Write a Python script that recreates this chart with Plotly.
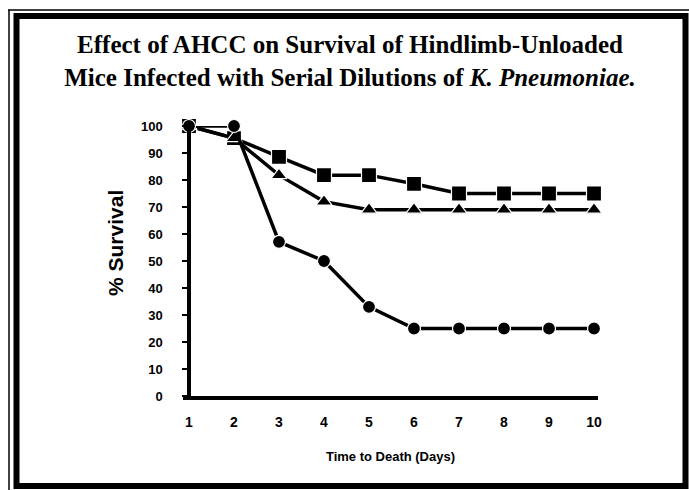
import plotly.graph_objects as go

# Survival (%) by day for the three infection groups
days = list(range(1, 11))
survival_square = [100, 95.5, 88.6, 81.8, 81.8, 78.6, 75, 75, 75, 75]
survival_triangle = [100, 95.5, 81.8, 72, 69, 69, 69, 69, 69, 69]
survival_circle = [100, 100, 57.1, 50, 33, 25, 25, 25, 25, 25]
y_ticks = list(range(0, 101, 10))

title_line1 = "Effect of AHCC on Survival of Hindlimb-Unloaded"
title_line2 = "Mice Infected with Serial Dilutions of <i>K. Pneumoniae.</i>"
x_title = "Time to Death (Days)"
y_title = "% Survival"

W, H = 689, 490
L, R, T, B = 183, 91, 126, 94
PW, PH = W - L - R, H - T - B


def px(x):
    return (x - L) / PW


def py(y):
    return (H - B - y) / PH


fig = go.Figure()

series = [
    (survival_square, "square", 15),
    (survival_triangle, "triangle-up", 14),
    (survival_circle, "circle", 13),
]
for values, symbol, size in series:
    fig.add_trace(go.Scatter(
        x=days, y=values, mode="lines+markers",
        line=dict(color="black", width=3.5),
        marker=dict(symbol=symbol, size=size, color="black",
                    line=dict(color="white", width=1.2)),
        cliponaxis=False, showlegend=False,
    ))

unit = 45.11
x_lo = 1 - 6 / unit
x_hi = 10 + 4 / unit

fig.update_layout(
    width=W, height=H,
    margin=dict(l=L, r=R, t=T, b=B, pad=0),
    paper_bgcolor="white", plot_bgcolor="white",
    xaxis=dict(
        range=[x_lo, x_hi], tickvals=days, ticktext=[str(d) for d in days],
        showgrid=False, zeroline=False, showline=True, linecolor="black",
        linewidth=3.5, ticks="", ticklabelstandoff=10,
        tickfont=dict(family="Liberation Sans", size=14, color="black", weight="bold"),
        title=dict(text=x_title, standoff=24,
                   font=dict(family="Liberation Sans", size=13, color="black", weight="bold")),
    ),
    yaxis=dict(
        range=[0, 100], tickvals=y_ticks, showgrid=False, zeroline=False,
        showline=True, linecolor="black", linewidth=3.5,
        anchor="free", position=px(189),
        ticks="outside", ticklen=5, tickwidth=2, tickcolor="black",
        ticklabelstandoff=17,
        tickfont=dict(family="Liberation Sans", size=13, color="black", weight="bold"),
    ),
    title=dict(
        text="<b>" + title_line1 + "<br>" + title_line2 + "</b>",
        x=px(350), xanchor="center", xref="paper",
        y=1 - 53 / H, yanchor="middle",
        font=dict(family="Liberation Serif, Times New Roman, serif", size=25, color="black"),
    ),
    annotations=[
        dict(text="<b>" + y_title + "</b>", x=px(115), y=py(243), xref="paper", yref="paper",
             xanchor="center", yanchor="middle",
             showarrow=False, textangle=-90,
             font=dict(family="Liberation Sans", size=21, color="black")),
    ],
    shapes=[
        # heavy outer frame
        dict(type="rect", xref="paper", yref="paper",
             x0=px(16.5), x1=px(685.5), y0=py(16), y1=py(486),
             line=dict(color="black", width=6)),
        # thin rules outside the frame
        dict(type="line", xref="paper", yref="paper",
             x0=px(8), x1=px(689), y0=py(10), y1=py(10),
             line=dict(color="black", width=1.5)),
        dict(type="line", xref="paper", yref="paper",
             x0=px(9), x1=px(9), y0=py(10), y1=py(490),
             line=dict(color="black", width=1.5)),
    ],
)

fig.write_html("out.html")
